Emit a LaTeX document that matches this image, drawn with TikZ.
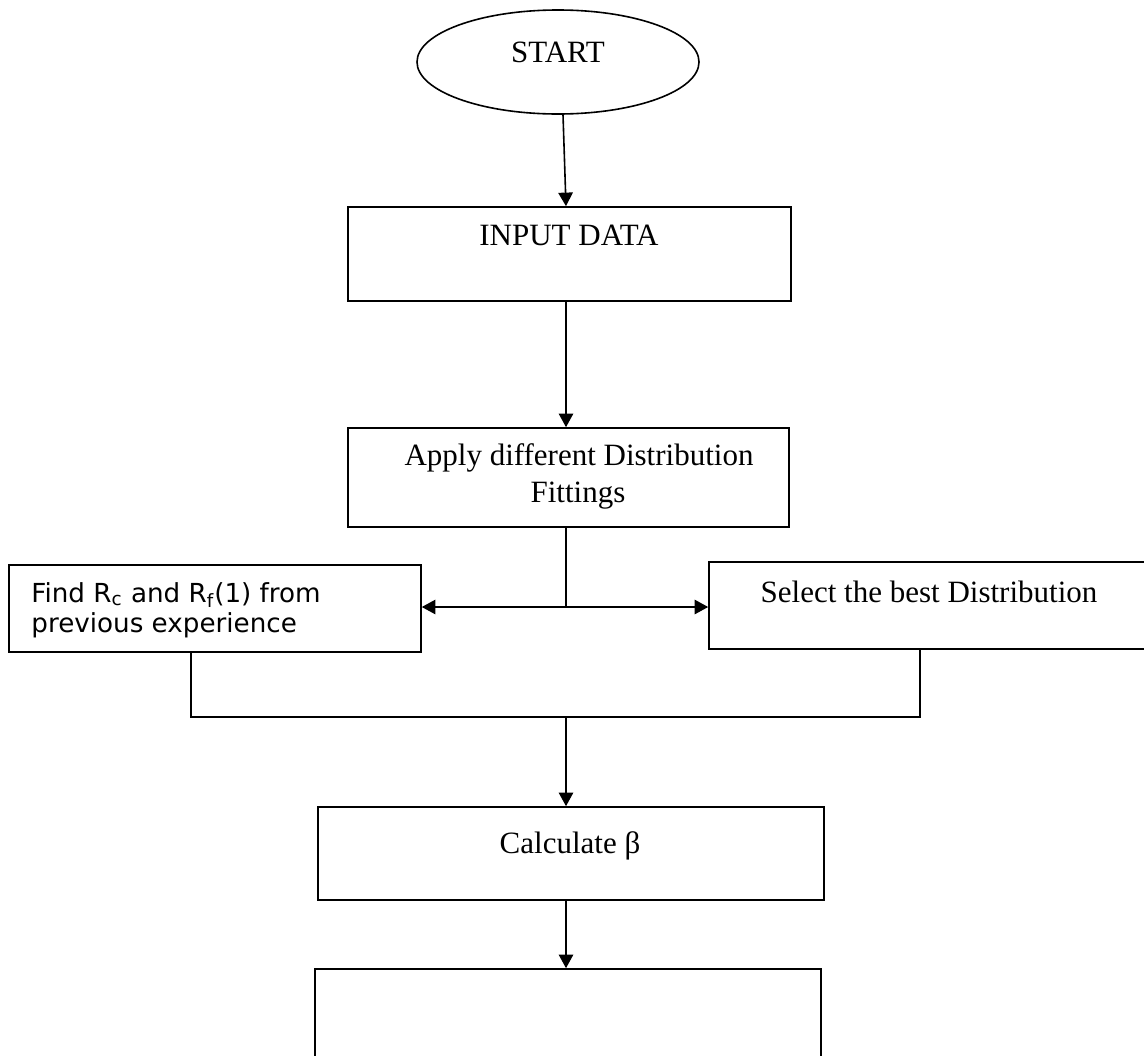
\documentclass[tikz,border=0pt]{standalone}
\usepackage{fontspec}
\setmainfont{Liberation Serif}
\newfontfamily\vsans{DejaVu Sans}
\usetikzlibrary{arrows.meta,shapes.geometric}
\begin{document}
\begin{tikzpicture}[x=0.5pt,y=-0.5pt,
  bx/.style={draw, line width=0.8pt, rectangle, inner sep=0pt},
  lbl/.style={inner sep=0pt, anchor=base, font=\fontsize{15.5pt}{18.5pt}\selectfont},
  slbl/.style={inner sep=0pt, anchor=base west, font=\vsans\fontsize{13.1pt}{15pt}\selectfont},
  conn/.style={line width=0.8pt},
  arr/.style={line width=0.8pt, -{Triangle[length=6.8pt,width=7.2pt]}}]
\useasboundingbox (0,0) rectangle (1144,1055);
\clip (0,0) rectangle (1144,1055);
% shapes
\node[draw, line width=0.8pt, ellipse, inner sep=0pt, minimum width=141pt, minimum height=52pt] (start) at (558,62) {};
\node[bx, minimum width=221.5pt, minimum height=47pt] (input) at (569.5,254) {};
\node[bx, minimum width=220.5pt, minimum height=49.5pt] (apply) at (568.5,477.5) {};
\node[bx, minimum width=206pt, minimum height=43.5pt] (find) at (215,608.5) {};
\node[bx, minimum width=220.5pt, minimum height=43.5pt] (select) at (929.5,605.5) {};
\node[bx, minimum width=253pt, minimum height=46.5pt] (calc) at (571,853.5) {};
\node[bx, minimum width=253pt, minimum height=61pt] (last) at (568,1030) {};
% texts
\node[lbl] (tstart) at (558,62) {START};
\node[lbl] (tinput) at (569,245) {INPUT DATA};
\node[lbl] (tapply1) at (579,465) {Apply different Distribution};
\node[lbl] (tapply2) at (578,502) {Fittings};
\node[lbl] (tselect) at (929,602) {Select the best Distribution};
\node[lbl] (tcalc) at (570,853) {Calculate β};
\node[slbl] (tfind1) at (31,602) {Find R\textsubscript{c} and R\textsubscript{f}(1) from};
\node[slbl] (tfind2) at (31,632) {previous experience};
% junctions
\coordinate (split) at (566,607);
\coordinate (jl) at (191,717);
\coordinate (jr) at (920,717);
\coordinate (jm) at (566,717);
% connectors
\draw[arr] ([xshift=2.5pt]start.south) -- ([xshift=-1.75pt]input.north);
\draw[arr] (split |- input.south) -- (split |- apply.north);
\draw[conn] (split |- apply.south) -- (split);
\draw[arr] (split) -- (split -| find.east);
\draw[arr] (split) -- (split -| select.west);
\draw[conn] (jl |- find.south) -- (jl) -- (jr) -- (jr |- select.south);
\draw[arr] (jm) -- (jm |- calc.north);
\draw[arr] (jm |- calc.south) -- (jm |- last.north);
\end{tikzpicture}
\end{document}
